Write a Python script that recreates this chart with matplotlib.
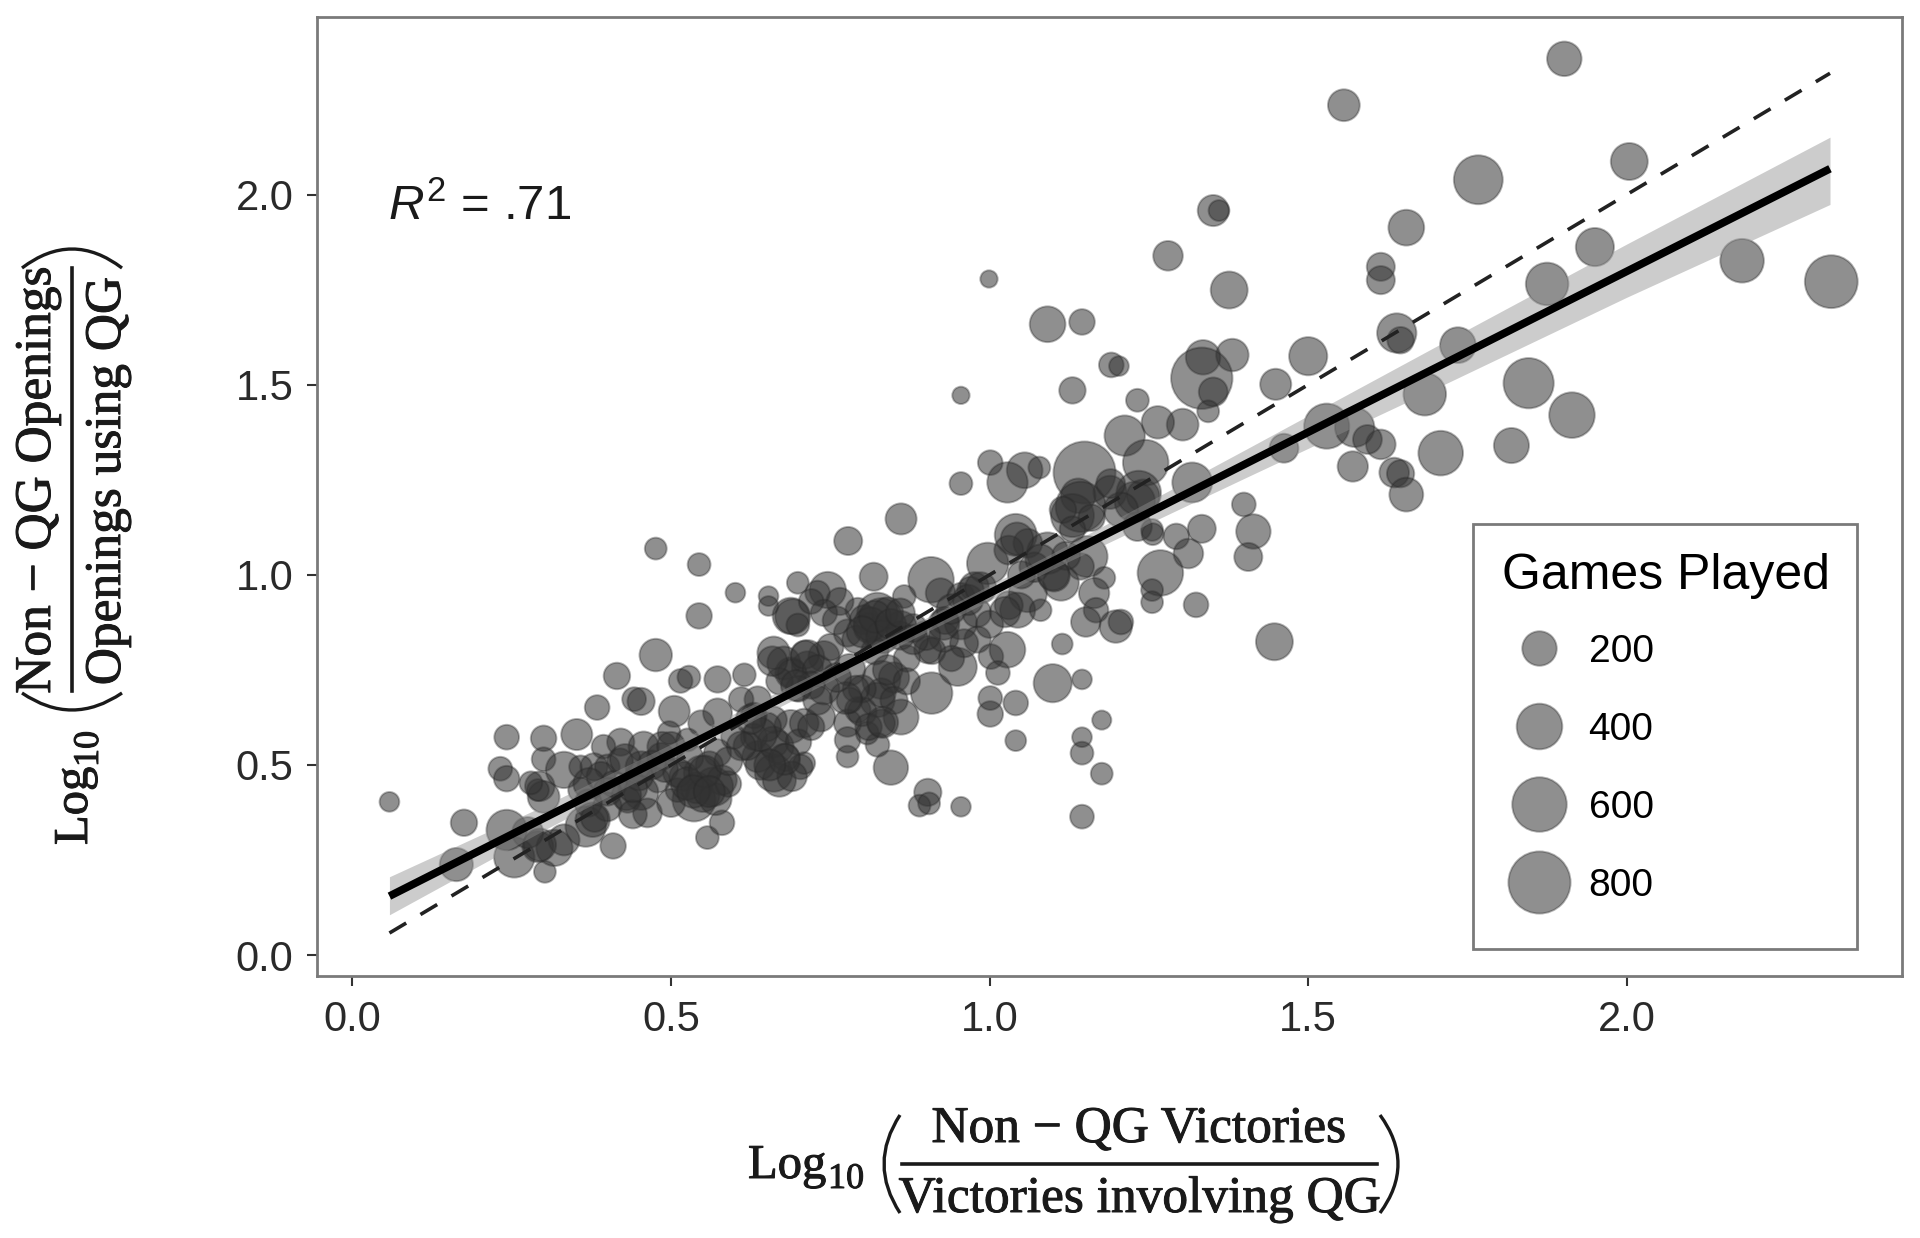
import matplotlib
matplotlib.use("Agg")
import matplotlib.pyplot as plt
import matplotlib.patheffects as pe
import numpy as np
from matplotlib.lines import Line2D
from matplotlib.patches import PathPatch, Rectangle
from matplotlib.path import Path

x_vals = [
 1.902,1.556,1.767,2.004,1.351,1.36,1.654,1.95,1.28,1.614,
 1.614,1.875,2.181,2.321,1.376,.999,1.091,1.145,1.639,1.645,
 1.381,1.335,1.333,1.5,1.191,1.203,1.351,1.13,.955,1.449,
 1.735,1.846,1.683,1.914,1.232,1.343,1.303,1.264,1.212,1.529,
 1.573,1.614,1.593,1.462,1.708,1.819,1.57,1.635,1.645,1.654,
 1.245,1.149,1.318,1.001,.955,1.055,1.028,1.078,1.189,1.139,
 1.228,1.241,1.13,1.399,1.414,1.406,1.333,1.293,1.255,1.312,
 1.268,1.255,1.255,1.324,1.447,.861,.778,.476,.544,.601,
 .544,.818,.699,.653,.653,.688,.476,.415,.384,.442,
 .453,.505,.515,.528,.573,.615,.242,.3,.352,.232,
 .242,.058,.175,.163,.242,.3,.294,.409,.302,.557,
 .58,.903,.89,.905,.955,.845,1.145,1.176,1.145,1.145,
 1.176,1.041,1.001,1.001,1.041,1.099,1.145,1.114,.909,.254,
 .291,.317,.332,.366,.377,.332,.30,.291,.28,.421,
 .394,.457,.497,.379,.4,.358,.453,.484,.547,.573,
 .526,.573,.547,.567,.536,.51,.479,.453,.463,.432,
 .4,.358,.636,.661,.703,.667,.63,.598,.688,.661,
 .636,.61,.661,.688,.714,.677,.74,.691,.699,.746,
 .73,1.143,1.115,1.234,1.206,1.232,1.256,1.041,1.06,.997,
 1.03,1.091,1.153,1.143,1.18,1.112,1.06,1.044,1.08,1.164,
 1.167,1.151,1.198,1.206,.908,.923,.955,.976,.866,.83,
 .793,.765,.777,.861,.903,.928,.955,.981,1.002,1.028,
 .95,1.013,.83,.824,.861,.793,.777,.735,.709,.714,
 .824,.803,.824,.777,.824,.777,.808,.709,.78,.74,
]
y_vals = [
 2.357,2.235,2.039,2.087,1.958,1.958,1.913,1.862,1.839,1.81,
 1.775,1.765,1.826,1.771,1.749,1.778,1.659,1.665,1.636,1.617,
 1.578,1.572,1.517,1.575,1.552,1.549,1.481,1.485,1.472,1.501,
 1.604,1.504,1.475,1.42,1.459,1.43,1.395,1.401,1.366,1.391,
 1.388,1.343,1.356,1.333,1.32,1.34,1.285,1.269,1.266,1.211,
 1.295,1.269,1.243,1.295,1.24,1.275,1.243,1.282,1.217,1.208,
 1.192,1.208,1.156,1.185,1.114,1.047,1.121,1.101,1.118,1.056,
 1.005,.96,.928,.921,.824,1.147,1.089,1.069,1.027,.953,
 .892,.995,.979,.944,.918,.892,.789,.734,.651,.673,
 .667,.641,.721,.731,.725,.737,.573,.57,.58,.49,
 .464,.403,.348,.238,.329,.515,.444,.287,.219,.309,
 .348,.428,.393,.399,.39,.493,.364,.477,.531,.573,
 .618,.564,.634,.676,.663,.715,.725,.818,.689,.257,
 .285,.282,.303,.338,.356,.487,.416,.434,.453,.56,
 .548,.548,.585,.495,.495,.495,.495,.522,.61,.637,
 .566,.532,.479,.443,.408,.434,.46,.427,.374,.408,
 .39,.434,.522,.479,.495,.548,.574,.574,.601,.619,
 .672,.672,.795,.742,.758,.768,.785,.89,.868,.96,
 .952,1.179,1.171,1.215,1.171,1.127,1.107,1.105,1.083,1.03,
 1.065,1.057,1.048,1.022,.992,.979,.952,.907,.907,.952,
 .907,.876,.864,.876,.987,.952,.943,.969,.943,.882,
 .907,.93,.847,.864,.803,.836,.873,.83,.785,.803,
 .758,.742,.724,.671,.626,.645,.61,.626,.61,.784,
 .9,.882,.847,.522,.553,.566,.584,.505,.75,.7,
]
games = [
 200,160,470,240,150,30,220,260,130,110,
 110,340,360,560,240,0,220,80,280,90,
 170,200,780,260,70,20,120,90,0,150,
 220,500,340,400,50,40,160,170,300,390,
 280,130,120,120,380,210,140,130,100,190,
 400,800,290,70,50,220,300,40,180,200,
 300,170,350,60,200,110,110,80,40,130,
 400,40,40,70,240,150,110,40,50,20,
 80,110,40,20,20,230,170,90,70,60,
 100,150,60,50,90,50,70,80,150,60,
 80,20,90,180,300,60,130,80,40,50,
 70,100,40,40,20,200,60,40,50,20,
 15,30,80,60,70,260,20,30,320,300,
 150,230,150,300,200,230,160,40,50,100,
 60,140,50,100,70,50,150,100,80,120,
 50,100,200,270,350,60,70,200,120,80,
 120,70,150,250,70,170,90,70,180,90,
 90,70,170,150,150,180,150,210,50,230,
 70,500,90,380,200,120,40,330,120,320,
 120,320,310,90,40,220,260,210,40,140,
 70,130,170,70,400,130,100,120,50,350,
 70,100,100,150,100,130,170,90,70,220,
 260,60,260,200,210,80,100,120,120,190,
 300,120,180,40,60,80,50,40,160,150,
]
x_dense = [
 .52,.54,.56,.58,.50,.55,.53,.57,.51,.59,
 .64,.66,.68,.65,.67,.70,.62,.72,.69,.63,
 .39,.41,.43,.45,.37,.42,.47,.44,.38,.49,
 .69,.71,.73,.72,.75,.70,.67,.74,.76,.72,
 .81,.84,.86,.82,.85,.79,.83,.87,.80,.88,
 .80,.83,.81,.85,.79,.78,.84,.87,
 .93,.96,.91,.98,1.0,.94,1.03,.97,1.07,1.1,1.12,1.05,
 1.16,1.19,1.13,
 .525,.553,.64,.678,.813,.832,.928,.966,.371,.428,
 .486,.275,.294,.774,.832,.697,.659,1.043,1.101,.986,
 1.024,.535,.56,.655,.625,.82,.80,.845,.90,.94,
 .44,.40,.50,.73,.76,.88,.86,1.08,.61,.59,
]
y_dense = [
 .47,.44,.50,.46,.40,.42,.52,.41,.48,.45,
 .50,.56,.52,.60,.46,.56,.55,.60,.47,.63,
 .47,.45,.42,.47,.40,.51,.50,.37,.36,.49,
 .74,.79,.75,.71,.81,.70,.72,.90,.88,.93,
 .86,.90,.84,.80,.73,.83,.69,.78,.70,.86,
 .64,.61,.60,.67,.70,.67,.75,.72,
 .88,.82,.80,.90,.87,.78,.92,.96,1.02,1.0,1.05,1.0,
 1.15,1.24,1.12,
 .451,.483,.58,.515,.87,.837,.87,.934,.451,.515,
 .548,.322,.29,.676,.612,.709,.773,1.095,.998,.966,
 .902,.43,.43,.50,.62,.89,.85,.87,.84,.91,
 .44,.43,.55,.67,.73,.83,.90,1.04,.55,.51,
]
games_dense = [
 120,150,100,130,110,180,90,160,120,80,
 130,150,100,120,180,80,110,90,130,80,
 120,90,130,110,100,80,120,110,100,90,
 120,110,130,100,90,80,90,90,110,70,
 130,150,110,100,140,100,120,90,100,110,
 120,100,90,100,90,80,130,90,
 100,110,90,120,100,80,110,90,130,150,110,100,
 90,120,80,
 170,160,180,150,190,170,150,140,150,140,
 130,150,170,160,150,150,130,170,160,150,
 140,170,150,150,130,160,150,140,120,130,
 120,110,110,120,120,130,120,140,120,110,
]
line_x = [0.058, 2.319]
line_y = [0.155, 2.068]
ref_x = [0.058, 2.319]
ref_y = [0.058, 2.319]
band_x = [0.058, 0.3, 0.6, 0.85, 1.1, 1.4, 1.7, 2.0, 2.319]
band_hi = [0.206, 0.392, 0.636, 0.843, 1.058, 1.328, 1.6, 1.87, 2.151]
band_lo = [0.106, 0.328, 0.592, 0.807, 1.016, 1.254, 1.49, 1.73, 1.974]
x_ticks = [0.0, 0.5, 1.0, 1.5, 2.0]
y_ticks = [0.0, 0.5, 1.0, 1.5, 2.0]
legend_games = [200, 400, 600, 800]

W, H = 1920, 1238
DPI = 100
plt.rcParams['font.family'] = ['Liberation Sans', 'DejaVu Sans']
plt.rcParams['mathtext.fontset'] = 'custom'
plt.rcParams['mathtext.rm'] = 'Liberation Sans'
plt.rcParams['mathtext.it'] = 'Liberation Sans:italic'

def diam_pt(g):
    return np.sqrt(300 + 4.45 * np.asarray(g, float)) * 72 / DPI

FILL = (0.2, 0.2, 0.2, 0.55)
EDGE = (0.15, 0.15, 0.15, 0.35)

fig = plt.figure(figsize=(W / DPI, H / DPI), dpi=DPI, facecolor='white')
L, R, T, B = 317, 1902, 17, 976
ax = fig.add_axes([L / W, 1 - B / H, (R - L) / W, (B - T) / H])
ax.set_xlim(-0.0557, 2.432)
ax.set_ylim(-0.055, 2.467)

ax.scatter(x_vals + x_dense, y_vals + y_dense, s=diam_pt(games + games_dense) ** 2,
           facecolor=FILL, edgecolor=EDGE, linewidth=1.4, zorder=2)
ax.fill_between(band_x, band_lo, band_hi, color='#8f8f8f', alpha=0.45, lw=0, zorder=3)
ax.plot(ref_x, ref_y, color='#222222', lw=2.6, dashes=(5.4, 4.6), zorder=4)
ax.plot(line_x, line_y, color='black', lw=5.6, solid_capstyle='butt', zorder=5)

ax.set_xticks(x_ticks)
ax.set_yticks(y_ticks)
ax.set_xticklabels([f'{v:.1f}' for v in x_ticks])
ax.set_yticklabels([f'{v:.1f}' for v in y_ticks])
ax.tick_params(length=7, width=1.5, color='#333333', labelsize=30, labelcolor='#2a2a2a')
ax.tick_params(axis='y', pad=10)
ax.tick_params(axis='x', pad=10)
for s in ax.spines.values():
    s.set_color('#7a7a7a')
    s.set_linewidth(2)

fig.text(388 / W, 1 - 220 / H, r'$R^2$ = .71', fontsize=35.5, color='#1a1a1a', ha='left', va='baseline')

# legend frame (taller than its content, as in the reference)
ax.add_patch(Rectangle((1473 / W, 1 - 949 / H), (1857 - 1473) / W, (949 - 524) / H,
                       transform=fig.transFigure, facecolor='white', edgecolor='#7a7a7a',
                       linewidth=2, zorder=6, clip_on=False))
handles = [Line2D([], [], ls='none', marker='o', markersize=float(diam_pt(g)),
                  markerfacecolor=FILL, markeredgecolor=EDGE, markeredgewidth=1.4,
                  label=str(g)) for g in legend_games]
leg = ax.legend(handles=handles, title='Games Played', title_fontsize=36, fontsize=28,
                loc='lower right', bbox_to_anchor=(1859 / W, 1 - 933 / H),
                bbox_transform=fig.transFigure, borderaxespad=0, borderpad=0.75,
                handlelength=1.9, handletextpad=0.33, labelspacing=1.08,
                alignment='left', frameon=False)
leg.set_zorder(7)
leg._legend_box.sep -= 5

SERIF = ['Liberation Serif', 'DejaVu Serif']
LAB = '#1a1a1a'
SZ = 37
HEAVY = [pe.withStroke(linewidth=0.7, foreground=LAB)]

def ptxt(x, y, s, size=SZ, **k):
    fig.text(x / W, 1 - y / H, s, family=SERIF, color=LAB, fontsize=size, path_effects=HEAVY, **k)

def pline(xs, ys, lw):
    fig.add_artist(Line2D(np.array(xs) / W, 1 - np.array(ys) / H, transform=fig.transFigure,
                          color=LAB, lw=lw))

def paren(p0, c, p1):
    verts = [(p[0] / W, 1 - p[1] / H) for p in (p0, c, p1)]
    fig.add_artist(PathPatch(Path(verts, [Path.MOVETO, Path.CURVE3, Path.CURVE3]),
                             transform=fig.transFigure, fill=False, ec=LAB, lw=2.4))

# x label
ptxt(1139, 1142, 'Non − QG Victories', ha='center', va='baseline')
pline([902, 1377], [1164, 1164], 2.6)
ptxt(1140, 1212, 'Victories involving QG', ha='center', va='baseline')
ptxt(748, 1178, 'Log', size=35, ha='left', va='baseline')
ptxt(828, 1188, '10', size=26, ha='left', va='baseline')
paren((900, 1115), (868, 1164), (900, 1213))
paren((1380, 1115), (1416, 1164), (1380, 1213))

# y label
ptxt(50, 480, 'Non − QG Openings', ha='center', va='baseline', rotation=90, rotation_mode='anchor')
pline([72, 72], [268, 691], 2.6)
ptxt(120, 481, 'Openings using QG', ha='center', va='baseline', rotation=90, rotation_mode='anchor')
ptxt(87, 845, 'Log', size=35, ha='left', va='baseline', rotation=90, rotation_mode='anchor')
ptxt(98, 767, '10', size=26, ha='left', va='baseline', rotation=90, rotation_mode='anchor')
paren((22, 693), (72, 727), (122, 693))
paren((22, 268), (72, 230), (122, 268))

fig.savefig('out.png', dpi=DPI, facecolor='white')
